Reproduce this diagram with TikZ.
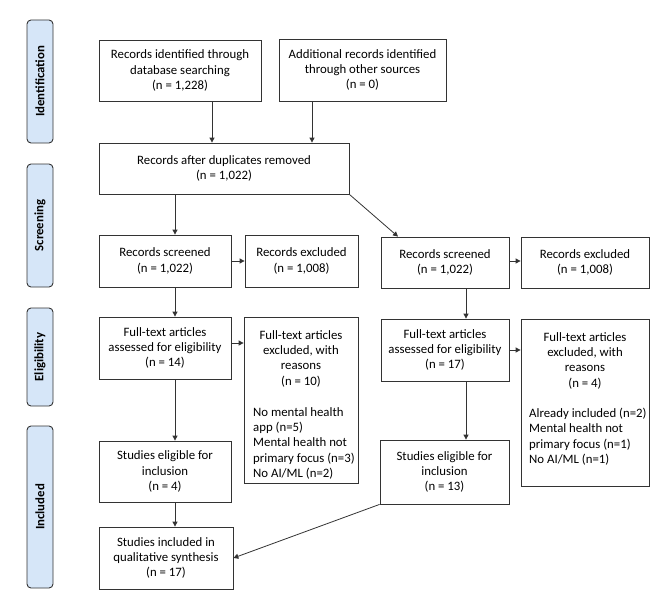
\documentclass[tikz,border=0pt]{standalone}
\usepackage{fontspec}
\setmainfont{Carlito}
\usetikzlibrary{arrows.meta}
\definecolor{phasefill}{HTML}{D6E6F8}
\definecolor{linec}{HTML}{333333}
\newcommand\fsz{\fontsize{12.8}{15.4}\selectfont}
\tikzset{
 box/.style={draw=linec, line width=0.8pt, align=center, inner sep=0pt, font=\fsz},
 txt/.style={align=center, inner sep=0pt, font=\fsz, anchor=north},
 lst/.style={align=left, inner sep=0pt, font=\fsz, anchor=north west},
 phase/.style={draw=linec, line width=0.9pt, fill=phasefill, rounded corners=4pt, inner sep=0pt, minimum height=26pt, rotate=90, font=\bfseries\fsz},
 arr/.style={draw=linec, line width=0.8pt, -{Triangle[length=5pt,width=5pt]}},
}
\begin{document}
\begin{tikzpicture}[x=1pt,y=-1pt]
\useasboundingbox (0,0) rectangle (660,615);
% phase labels
\node[phase, minimum width=123pt] (pid) at (40,81.5) {Identification};
\node[phase, minimum width=123pt] (psc) at (40,225.5) {Screening};
\node[phase, minimum width=98pt] (pel) at (40,357) {Eligibility};
\node[phase, minimum width=162pt] (pin) at (40,507) {Included};
% boxes
\node[box, minimum width=162pt, minimum height=61pt] (id1) at (180,70.5) {Records identified through\\database searching\\(n = 1,228)};
\node[box, minimum width=167pt, minimum height=62pt] (id2) at (362.5,70) {Additional records identified\\through other sources\\(n = 0)};
\node[box, minimum width=250pt, minimum height=51pt] (dup) at (224,168.5) {Records after duplicates removed\\(n = 1,022)};
\node[box, minimum width=132pt, minimum height=52pt] (scrL) at (165,261) {Records screened\\(n = 1,022)};
\node[box, minimum width=113pt, minimum height=52pt] (excL) at (301.5,261) {Records excluded\\(n = 1,008)};
\node[box, minimum width=132pt, minimum height=62pt] (ftL) at (165,348) {Full-text articles\\assessed for eligibility\\(n = 14)};
\node[box, minimum width=114pt, minimum height=166pt] (fexL) at (301,400) {};
\node[txt] (fexLt) at (301,330) {Full-text articles\\excluded, with\\reasons\\(n = 10)};
\node[lst] (fexLl) at (253,407) {No mental health\\app (n=5)\\Mental health not\\primary focus (n=3)\\No AI/ML (n=2)};
\node[box, minimum width=132pt, minimum height=61pt] (eligL) at (165,471.5) {Studies eligible for\\inclusion\\(n = 4)};
\node[box, minimum width=134pt, minimum height=62pt] (incl) at (166,558) {Studies included in\\qualitative synthesis\\(n = 17)};
\node[box, minimum width=128pt, minimum height=51pt] (scrR) at (445,262.5) {Records screened\\(n = 1,022)};
\node[box, minimum width=128pt, minimum height=51pt] (excR) at (585,262.5) {Records excluded\\(n = 1,008)};
\node[box, minimum width=128pt, minimum height=62pt] (ftR) at (445,350) {Full-text articles\\assessed for eligibility\\(n = 17)};
\node[box, minimum width=128pt, minimum height=167pt] (fexR) at (585,402.5) {};
\node[txt] (fexRt) at (585,332) {Full-text articles\\excluded, with\\reasons\\(n = 4)};
\node[lst] (fexRl) at (529,408) {Already included (n=2)\\Mental health not\\primary focus (n=1)\\No AI/ML (n=1)};
\node[box, minimum width=129pt, minimum height=64pt] (eligR) at (444.5,472) {Studies eligible for\\inclusion\\(n = 13)};
% connectors
\draw[arr] ([xshift=32pt]id1.south) -- ([xshift=32pt]id1.south |- dup.north);
\draw[arr] ([xshift=-50.5pt]id2.south) -- ([xshift=-50.5pt]id2.south |- dup.north);
\draw[arr] ([xshift=10pt]scrL.north |- dup.south) -- ([xshift=10pt]scrL.north);
\draw[arr] (dup.south east) -- ([xshift=-47pt]scrR.north);
\draw[arr] (scrL.east) -- (excL.west);
\draw[arr] ([xshift=10pt]scrL.south) -- ([xshift=10pt]ftL.north);
\draw[arr] ([yshift=5pt]ftL.east) -- ([yshift=5pt]ftL.east -| fexL.west);
\draw[arr] ([xshift=10pt]ftL.south) -- ([xshift=10pt]eligL.north);
\draw[arr] ([xshift=10pt]eligL.south) -- ([xshift=10pt]eligL.south |- incl.north);
\draw[arr] ([yshift=1.5pt]scrR.east) -- ([yshift=1.5pt]scrR.east -| excR.west);
\draw[arr] ([xshift=21pt]scrR.south) -- ([xshift=21pt]ftR.north);
\draw[arr] (ftR.east) -- (ftR.east -| fexR.west);
\draw[arr] ([xshift=21pt]ftR.south) -- ([xshift=21pt]ftR.south |- eligR.north);
\draw[arr] (eligR.south west) -- (incl.east);
\end{tikzpicture}
\end{document}
